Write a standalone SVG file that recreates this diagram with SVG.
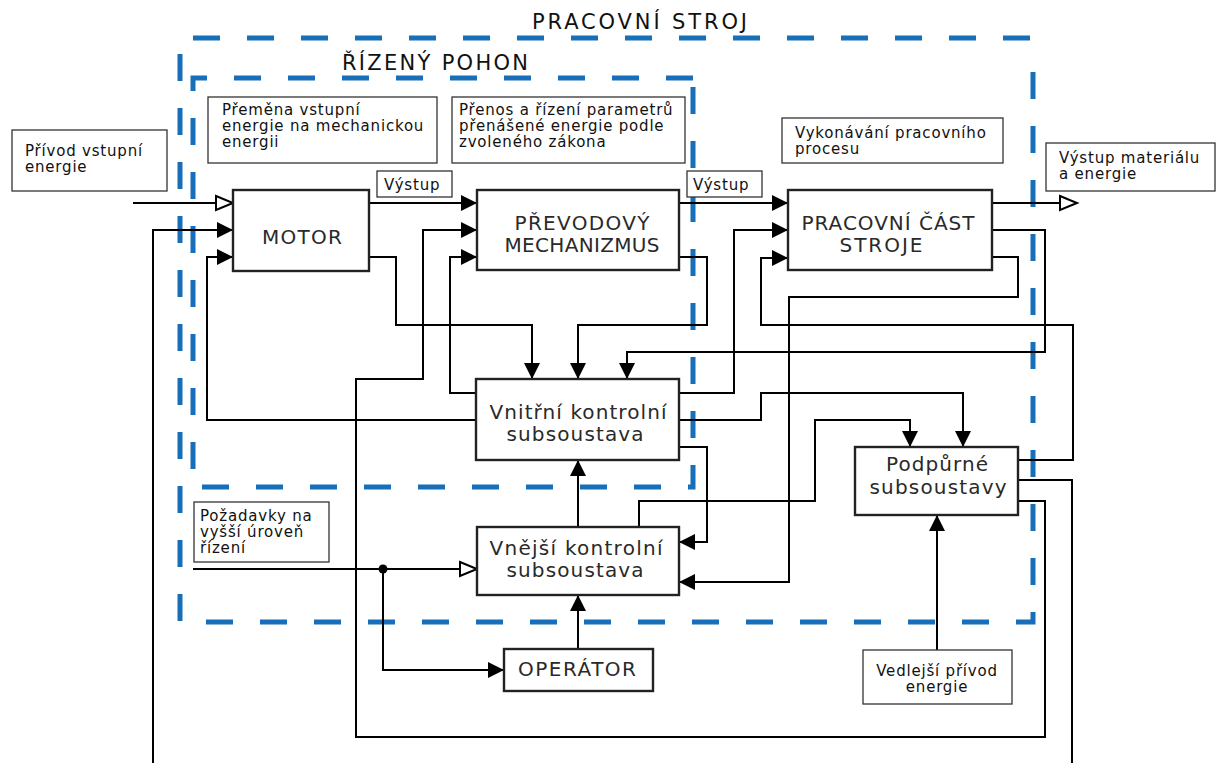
<svg xmlns="http://www.w3.org/2000/svg" width="1216" height="763" viewBox="0 0 1216 763">
<style>
.bg{fill:#fff}
.dash{fill:none;stroke:#176eb9;stroke-width:5;stroke-dasharray:27 27}
.node{fill:#fff;stroke:#222;stroke-width:2.4}
.lbl{fill:#fff;stroke:#333;stroke-width:1.3}
.big{font-family:"DejaVu Sans",Verdana,sans-serif;font-size:20px;fill:#2a2a2a;text-anchor:middle}
.sm{font-family:"DejaVu Sans",Verdana,sans-serif;font-size:15px;fill:#111;letter-spacing:0.8px}
.title{font-family:"DejaVu Sans",Verdana,sans-serif;font-size:21px;fill:#111}
.c{fill:none;stroke:#000;stroke-width:2}
.f{marker-end:url(#af)}
.h{marker-end:url(#ah)}
</style>
<defs>
<marker id="af" markerUnits="userSpaceOnUse" markerWidth="18" markerHeight="18" refX="16" refY="8" orient="auto" overflow="visible">
<path d="M0,0 L16,8 L0,16 z" fill="#000"/>
</marker>
<marker id="ah" markerUnits="userSpaceOnUse" markerWidth="22" markerHeight="18" refX="18" refY="8" orient="auto" overflow="visible">
<path d="M1,1 L18,8 L1,15 z" fill="#fff" stroke="#000" stroke-width="2"/>
</marker>
</defs>
<rect class="bg" x="0" y="0" width="1216" height="763"/>

<g id="boundary-pracovni-stroj">
<path class="dash" d="M193,38 H1033"/>
<path class="dash" d="M1033,72 V622 H180 V53"/>
<text class="title" x="532" y="29" textLength="215">PRACOVNÍ STROJ</text>
</g>
<g id="boundary-rizeny-pohon">
<path class="dash" d="M193,91 V78 H693"/>
<path class="dash" d="M693,87 V487 H193 V91"/>
<text class="title" x="342" y="70" textLength="186">ŘÍZENÝ POHON</text>
</g>

<g id="connectors">
<path class="c h" d="M133,203 H233"/>
<path class="c f" d="M153,763 V230 H233"/>
<path class="c f" d="M476,420 H207 V257 H233"/>
<path class="c f" d="M369,203 H477"/>
<path class="c f" d="M369,257 H396 V325 H532 V379"/>
<path class="c f" d="M476,393 H450 V257 H477"/>
<path class="c f" d="M1018,501 H1045 V737 H356 V379 H423 V230 H477"/>
<path class="c f" d="M679,203 H788"/>
<path class="c f" d="M679,257 H707 V325 H578 V379"/>
<path class="c f" d="M679,393 H734 V230 H788"/>
<path class="c f" d="M1018,460 H1073 V325 H761 V258 H788"/>
<path class="c h" d="M992,203 H1077"/>
<path class="c f" d="M992,230 H1045 V352 H627 V379"/>
<path class="c f" d="M992,257 H1018 V297 H789 V582 H679"/>
<path class="c f" d="M679,420 H761 V393 H963 V447"/>
<path class="c f" d="M679,447 H707 V542 H679"/>
<path class="c f" d="M639,527 V501 H815 V420 H910 V447"/>
<path class="c" d="M1018,480 H1072 V763"/>
<path class="c f" d="M578,527 V460"/>
<path class="c f" d="M578,649 V595"/>
<path class="c h" d="M193,569 H477"/>
<path class="c f" d="M383,569 V670 H504"/>
<path class="c f" d="M937,650 V515"/>
<circle cx="383" cy="569" r="4.5" fill="#000"/>
</g>

<g id="n-motor">
<rect class="node" x="233" y="190" width="136" height="81"/>
<text class="big" x="302" y="244" textLength="80">MOTOR</text>
</g>
<g id="n-prevodovy">
<rect class="node" x="477" y="190" width="202" height="80"/>
<text class="big" x="582" y="230" textLength="135">PŘEVODOVÝ</text>
<text class="big" x="582" y="252" textLength="155">MECHANIZMUS</text>
</g>
<g id="n-pracovni-cast">
<rect class="node" x="788" y="190" width="204" height="80"/>
<text class="big" x="888" y="230" textLength="173">PRACOVNÍ ČÁST</text>
<text class="big" x="881" y="252" textLength="83">STROJE</text>
</g>
<g id="n-vnitrni">
<rect class="node" x="476" y="379" width="203" height="81"/>
<text class="big" x="578" y="419" textLength="177">Vnitřní kontrolní</text>
<text class="big" x="575" y="441" textLength="137">subsoustava</text>
</g>
<g id="n-vnejsi">
<rect class="node" x="477" y="527" width="202" height="68"/>
<text class="big" x="576" y="555" textLength="173">Vnější kontrolní</text>
<text class="big" x="575" y="577" textLength="137">subsoustava</text>
</g>
<g id="n-podpurne">
<rect class="node" x="855" y="447" width="163" height="68"/>
<text class="big" x="937" y="471" textLength="102">Podpůrné</text>
<text class="big" x="938" y="494" textLength="137">subsoustavy</text>
</g>
<g id="n-operator">
<rect class="node" x="504" y="649" width="149" height="42"/>
<text class="big" x="577" y="676" textLength="118">OPERÁTOR</text>
</g>

<g id="l-privod">
<rect class="lbl" x="12" y="130" width="155" height="61"/>
<text class="sm" x="25" y="156">Přívod vstupní</text>
<text class="sm" x="25" y="172">energie</text>
</g>
<g id="l-premena">
<rect class="lbl" x="208" y="97" width="229" height="66"/>
<text class="sm" x="222" y="115">Přeměna vstupní</text>
<text class="sm" x="222" y="131">energie na mechanickou</text>
<text class="sm" x="222" y="147">energii</text>
</g>
<g id="l-prenos">
<rect class="lbl" x="452" y="97" width="233" height="66"/>
<text class="sm" x="459" y="115">Přenos a řízení parametrů</text>
<text class="sm" x="459" y="131">přenášené energie podle</text>
<text class="sm" x="459" y="147">zvoleného zákona</text>
</g>
<g id="l-vykonavani">
<rect class="lbl" x="782" y="118" width="221" height="45"/>
<text class="sm" x="795" y="138">Vykonávání pracovního</text>
<text class="sm" x="795" y="154">procesu</text>
</g>
<g id="l-vystup-material">
<rect class="lbl" x="1046" y="143" width="169" height="48"/>
<text class="sm" x="1059" y="163">Výstup materiálu</text>
<text class="sm" x="1059" y="179">a energie</text>
</g>
<g id="l-vystup-1">
<rect class="lbl" x="377" y="171" width="75" height="26"/>
<text class="sm" x="384" y="190">Výstup</text>
</g>
<g id="l-vystup-2">
<rect class="lbl" x="687" y="171" width="75" height="26"/>
<text class="sm" x="693" y="190">Výstup</text>
</g>
<g id="l-pozadavky">
<rect class="lbl" x="194" y="502" width="135" height="60"/>
<text class="sm" x="200" y="521">Požadavky na</text>
<text class="sm" x="200" y="537">vyšší úroveň</text>
<text class="sm" x="200" y="553">řízení</text>
</g>
<g id="l-vedlejsi">
<rect class="lbl" x="863" y="650" width="149" height="54"/>
<text class="sm" x="937" y="676" text-anchor="middle">Vedlejší přívod</text>
<text class="sm" x="937" y="692" text-anchor="middle">energie</text>
</g>
</svg>
